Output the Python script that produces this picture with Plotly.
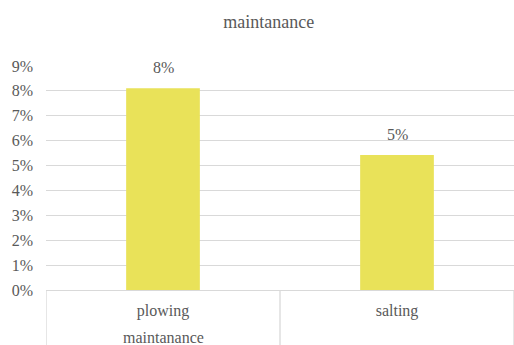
import plotly.graph_objects as go

# Data
categories = ["plowing", "salting"]
values = [0.0811, 0.0542]
group_label = "maintanance"
chart_title = "maintanance"

bar_color = "#E9E259"
grid_color = "#D9D9D9"
text_color = "#595959"
font_family = "Times New Roman, Liberation Serif, serif"

fig = go.Figure()
fig.add_trace(go.Bar(
    x=categories,
    y=values,
    marker=dict(color=bar_color, line=dict(width=0)),
    width=0.315,
    hoverinfo="skip",
))

# Value labels above the bars
for c, v in zip(categories, values):
    fig.add_annotation(
        x=c, y=v, xref="x", yref="y",
        text=f"{v:.0%}", showarrow=False,
        yanchor="bottom", yshift=10,
        font=dict(family=font_family, size=16, color=text_color),
    )

# Group label under the first category
fig.add_annotation(
    x=categories[0], y=-0.214, xref="x", yref="paper",
    text=group_label, showarrow=False, yanchor="middle",
    font=dict(family=font_family, size=16, color=text_color),
)

# Category separators below the axis
for xp in [-0.5, 0.5, 1.5]:
    fig.add_shape(
        type="line", xref="x", yref="paper",
        x0=xp, x1=xp, y0=0, y1=-0.3,
        line=dict(color=grid_color, width=1.3),
    )

fig.update_layout(
    width=514, height=345,
    margin=dict(l=46, r=0, t=66, b=55),
    paper_bgcolor="white", plot_bgcolor="white",
    showlegend=False,
    title=dict(
        text=chart_title, x=0.523, xref="container", xanchor="center",
        y=1 - 22 / 345, yref="container", yanchor="middle",
        font=dict(family=font_family, size=18, color=text_color),
    ),
    font=dict(family=font_family, color=text_color),
)

fig.update_xaxes(
    range=[-0.5, 1.5],
    showgrid=False, showline=False, zeroline=False,
    ticks="", ticklabelstandoff=9,
    tickfont=dict(family=font_family, size=16, color=text_color),
)
fig.update_yaxes(
    range=[0, 0.09], dtick=0.01, tickformat=".0%",
    showgrid=True, gridcolor=grid_color, gridwidth=1.3,
    zeroline=True, zerolinecolor=grid_color, zerolinewidth=1.3,
    showline=False, ticks="", ticklabelstandoff=12,
    tickfont=dict(family=font_family, size=16, color=text_color),
)

fig.write_html("out.html")
